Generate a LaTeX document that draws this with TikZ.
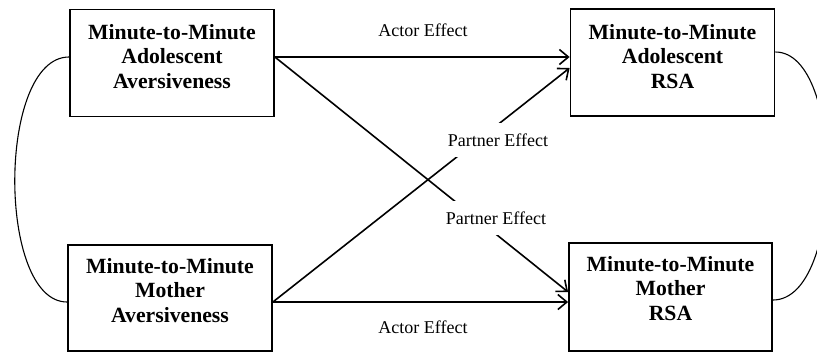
\documentclass[tikz,border=0pt]{standalone}
\usepackage{fontspec}
\setmainfont{Liberation Serif}
\usetikzlibrary{arrows.meta}
\tikzset{
  box/.style={draw, line width=1.8bp, minimum width=204bp, minimum height=107bp, inner sep=0},
  boxtext/.style={anchor=north, align=center, inner sep=0, font=\fontsize{21.7bp}{24.6bp}\selectfont\bfseries},
  effect/.style={-{Straight Barb[length=9bp,width=15bp,line width=1.6bp]}, line width=1.6bp},
  corr/.style={line width=1.1bp},
  lab/.style={font=\fontsize{18bp}{20bp}\selectfont, inner sep=0},
  plab/.style={lab, fill=white, inner xsep=1.5bp, inner ysep=11bp}
}
\begin{document}
\begin{tikzpicture}[x=1bp,y=-1bp]
\useasboundingbox (0,0) rectangle (817,352);
% boxes
\node[box] (al) at (172,63) {};
\node[box] (ar) at (672.5,62.5) {};
\node[box, minimum height=106bp] (ml) at (170,298) {};
\node[box, minimum height=108bp, minimum width=203bp] (mr) at (670.5,297) {};
\node[boxtext] (alt) at (172,24) {Minute-to-Minute\\Adolescent\\Aversiveness};
\node[boxtext] (art) at (672.5,24) {Minute-to-Minute\\Adolescent\\RSA};
\node[boxtext] (mlt) at (170,258) {Minute-to-Minute\\Mother\\Aversiveness};
\node[boxtext] (mrt) at (670.5,256) {Minute-to-Minute\\Mother\\RSA};
% effects
\draw[effect] ([yshift=6bp]al.east) -- ([yshift=5.5bp]ar.west);
\draw[effect] ([yshift=6bp]al.east) -- ([yshift=5bp]mr.west);
\draw[effect] ([yshift=-4bp]ml.east) -- ([yshift=-5.5bp]ar.west);
\draw[effect] ([yshift=-4bp]ml.east) -- ([yshift=-5bp]mr.west);
% correlations
\draw[corr] ([yshift=6bp]al.west) .. controls (-3,57) and (-3,302) .. ([yshift=-4bp]ml.west);
\draw[corr] ([yshift=10.5bp]ar.east) .. controls (845,52) and (845,300) .. ([yshift=-3bp]mr.east);
% labels
\node[lab] (a1) at (423,30) {Actor Effect};
\node[lab] (a2) at (423,327) {Actor Effect};
\node[plab] (p1) at (498,140) {Partner Effect};
\node[plab] (p2) at (496,218) {Partner Effect};
\end{tikzpicture}
\end{document}
